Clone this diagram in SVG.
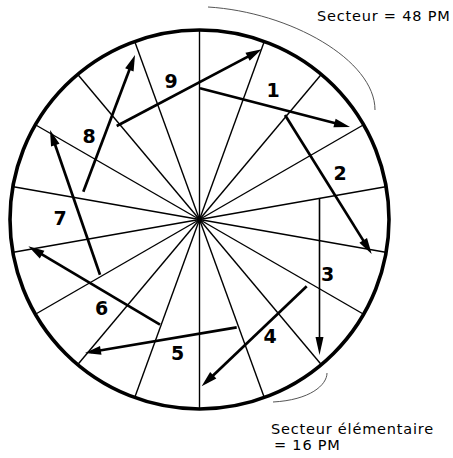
<svg xmlns="http://www.w3.org/2000/svg" width="453" height="458" viewBox="0 0 453 458">
<style>
.spoke{stroke:#000;stroke-width:1.4;fill:none}
.arr{stroke:#000;stroke-width:2.7;fill:none;marker-end:url(#ah)}
.arr3{stroke:#000;stroke-width:1.6;fill:none;marker-end:url(#ah3)}
.note{fill:none;stroke:#555;stroke-width:1}
.lbl{font-family:"DejaVu Sans",sans-serif;font-weight:bold;font-size:19px;text-anchor:middle;fill:#000}
.cap{font-family:"DejaVu Sans",sans-serif;font-size:14.5px;letter-spacing:0.8px;fill:#000}
</style>
<defs>
<marker id="ah" markerUnits="userSpaceOnUse" markerWidth="20" markerHeight="12" refX="10" refY="4.5" orient="auto" overflow="visible">
<path d="M0,0 L16,4.5 L0,9 z" fill="#000"/>
</marker>
<marker id="ah3" markerUnits="userSpaceOnUse" markerWidth="22" markerHeight="10" refX="12" refY="4" orient="auto" overflow="visible">
<path d="M0,0 L18,4 L0,8 z" fill="#000"/>
</marker>
</defs>
<rect width="453" height="458" fill="#fff"/>
<g id="wheel">
<g id="spokes">
<line class="spoke" x1="199.5" y1="219.5" x2="199.5" y2="30.5"/>
<line class="spoke" x1="199.5" y1="219.5" x2="264.1" y2="41.9"/>
<line class="spoke" x1="199.5" y1="219.5" x2="321.0" y2="74.7"/>
<line class="spoke" x1="199.5" y1="219.5" x2="363.2" y2="125.0"/>
<line class="spoke" x1="199.5" y1="219.5" x2="385.6" y2="186.7"/>
<line class="spoke" x1="199.5" y1="219.5" x2="385.6" y2="252.3"/>
<line class="spoke" x1="199.5" y1="219.5" x2="363.2" y2="314.0"/>
<line class="spoke" x1="199.5" y1="219.5" x2="321.0" y2="364.3"/>
<line class="spoke" x1="199.5" y1="219.5" x2="264.1" y2="397.1"/>
<line class="spoke" x1="199.5" y1="219.5" x2="199.5" y2="408.5"/>
<line class="spoke" x1="199.5" y1="219.5" x2="134.9" y2="397.1"/>
<line class="spoke" x1="199.5" y1="219.5" x2="78.0" y2="364.3"/>
<line class="spoke" x1="199.5" y1="219.5" x2="35.8" y2="314.0"/>
<line class="spoke" x1="199.5" y1="219.5" x2="13.4" y2="252.3"/>
<line class="spoke" x1="199.5" y1="219.5" x2="13.4" y2="186.7"/>
<line class="spoke" x1="199.5" y1="219.5" x2="35.8" y2="125.0"/>
<line class="spoke" x1="199.5" y1="219.5" x2="78.0" y2="74.7"/>
<line class="spoke" x1="199.5" y1="219.5" x2="134.9" y2="41.9"/>
</g>
<circle cx="199.5" cy="219.5" r="189.5" fill="none" stroke="#000" stroke-width="3.6"/>
</g>
<g id="connectors">
<line class="arr" x1="200" y1="88.3" x2="344.2" y2="125.5"/>
<line class="arr" x1="285" y1="115" x2="368.5" y2="248.9"/>
<line class="arr3" x1="319.5" y1="198" x2="319.5" y2="349"/>
<line class="arr" x1="306.7" y1="286.3" x2="206.0" y2="382.2"/>
<line class="arr" x1="236.7" y1="327.3" x2="90.9" y2="352.0"/>
<line class="arr" x1="160" y1="324.7" x2="33.5" y2="249.4"/>
<line class="arr" x1="100" y1="274.7" x2="52.0" y2="135.7"/>
<line class="arr" x1="83.3" y1="191.7" x2="132.9" y2="60.6"/>
<line class="arr" x1="116.7" y1="126" x2="256.4" y2="52.1"/>
</g>
<g id="labels">
<text class="lbl" x="273" y="96.7">1</text>
<text class="lbl" x="340" y="180">2</text>
<text class="lbl" x="327.5" y="281">3</text>
<text class="lbl" x="270" y="343">4</text>
<text class="lbl" x="177.5" y="359.7">5</text>
<text class="lbl" x="101.7" y="314.7">6</text>
<text class="lbl" x="60" y="225">7</text>
<text class="lbl" x="89" y="142.7">8</text>
<text class="lbl" x="171" y="88.3">9</text>
</g>
<g id="sector-note">
<path class="note" d="M208,7 C290,12 375,60 375,110"/>
<text class="cap" x="317" y="20.7">Secteur = 48 PM</text>
</g>
<g id="elementary-note">
<path class="note" d="M327,373 C327,385 310,400 273,402"/>
<text class="cap" x="271" y="433.5">Secteur élémentaire</text>
<text class="cap" x="274" y="449.5">= 16 PM</text>
</g>
</svg>
